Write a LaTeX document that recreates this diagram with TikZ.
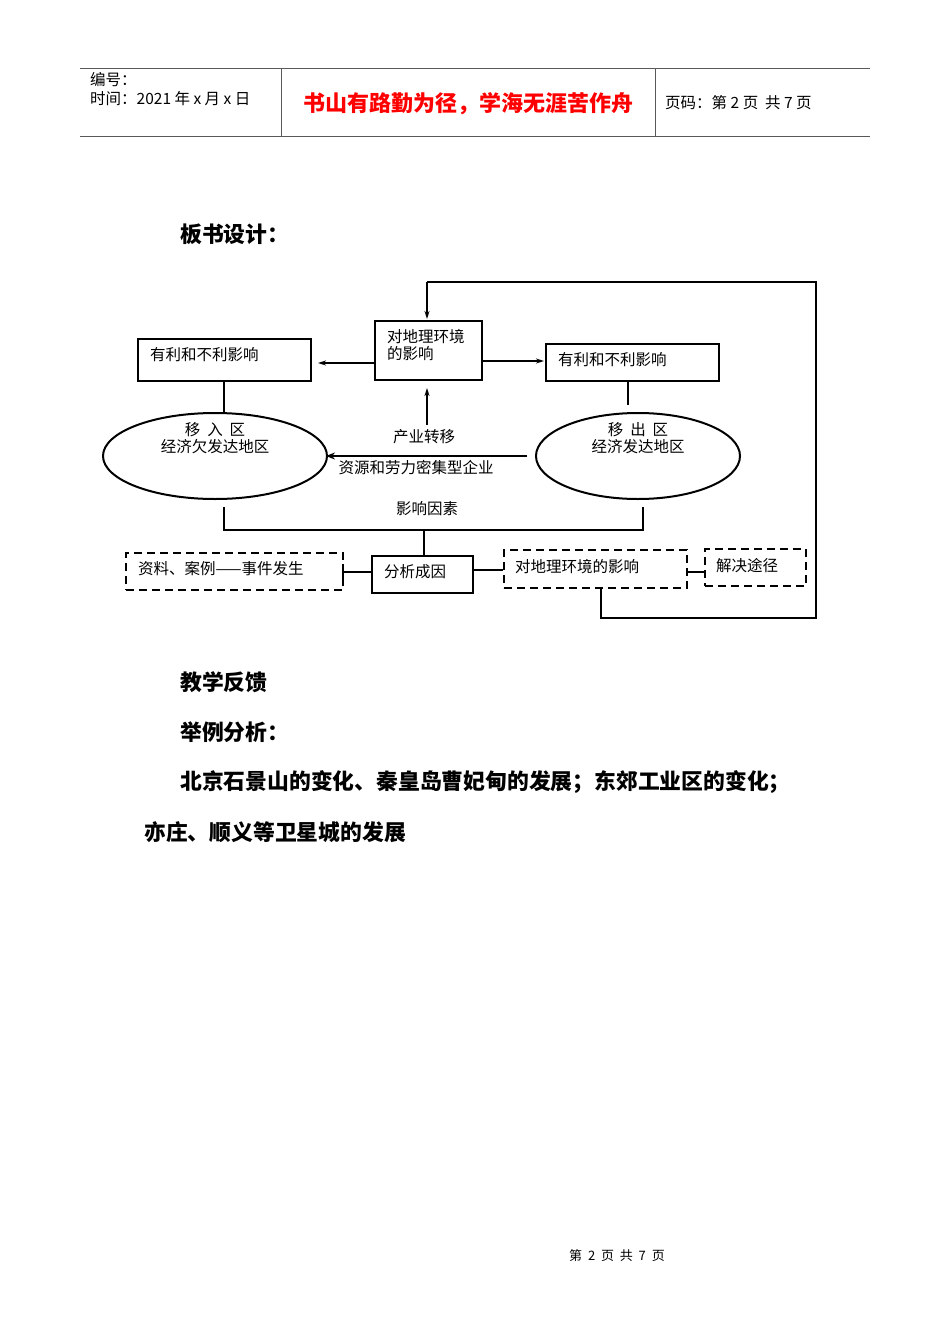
\documentclass[tikz,border=0pt]{standalone}
\usepackage{fontspec}
\newfontfamily\cjk{Noto Sans CJK SC}
\usetikzlibrary{arrows.meta}
\begin{document}
\begin{tikzpicture}[x=1pt,y=-1pt,
  t/.style={font=\cjk\fontsize{15.5}{17.5}\selectfont,inner sep=0pt},
  h/.style={font=\cjk\fontsize{15.5}{17}\selectfont,inner sep=0pt,anchor=west},
  b/.style={font=\cjk\bfseries\fontsize{21.8}{24}\selectfont,inner sep=0pt,anchor=west},
  bx/.style={draw,line width=2pt},
  dbx/.style={draw,line width=2pt,dash pattern=on 8pt off 5pt},
  ln/.style={line width=2pt},
  ar/.style={line width=2pt,-{Stealth[length=8pt,width=5pt,open]}}]
\useasboundingbox (0,0) rectangle (950,1344);
% header
\draw[gray!70!black,line width=1pt] (80,68)--(870,68) (80,136)--(870,136) (281,68)--(281,136) (655,68)--(655,136);
\node[h] (h1) at (90,80) {编号：};
\node[h] (h2) at (90,99) {时间：2021 年 x 月 x 日};
\node[font=\cjk\bfseries\fontsize{22}{24}\selectfont,text=red,inner sep=0pt] (h3) at (468,104) {书山有路勤为径，学海无涯苦作舟};
\node[h] (h4) at (665,103) {页码：第 2 页\ \ 共 7 页};
\node[b] (bs) at (180,234) {板书设计：};
% boxes
\node[bx,minimum width=173pt,minimum height=42pt,inner sep=0pt] (lb) at (224.5,360) {};
\node[t,anchor=west] at (150,355) {有利和不利影响};
\node[bx,minimum width=107pt,minimum height=59pt,inner sep=0pt] (cb) at (428.5,350.5) {};
\node[t,anchor=north west,align=left] at (387,329) {对地理环境\\的影响};
\node[bx,minimum width=173pt,minimum height=37pt,inner sep=0pt] (rb) at (632.5,362.5) {};
\node[t,anchor=west] at (558,360) {有利和不利影响};
\draw[ar] (cb.west|-0,363) -- (318,363);
\draw[ar] (cb.east|-0,361) -- (544,361);
\coordinate (up0) at (427,425);
\draw[ar] (up0) -- (427,388);
% loop
\coordinate (l1) at (601,588);
\draw[ln] (l1)--(601,618)--(816,618)--(816,282)--(427,282);
\draw[ar] (427,282)--(427,319);
% ellipses
\draw[ln] (215,456) ellipse[x radius=112,y radius=43];
\node[t,align=center] (le) at (215,438) {移\ \ 入\ \ 区\\经济欠发达地区};
\draw[ln] (638,456) ellipse[x radius=102,y radius=43];
\node[t,align=center] (re) at (638,438) {移\ \ 出\ \ 区\\经济发达地区};
\draw[ln] (224,381)--(224,413) (628,381)--(628,405);
\draw[line width=2pt,-{Stealth[length=9pt,width=7pt]}] (527,456)--(326,456);
\node[t] (cy) at (424,437) {产业转移};
\node[t] (zy) at (416,468) {资源和劳力密集型企业};
\node[t] (yx) at (427,509) {影响因素};
\draw[ln] (224,507)--(224,530)--(643,530)--(643,507) (424,530)--(424,556);
% bottom row
\node[bx,minimum width=101pt,minimum height=37pt,inner sep=0pt] (fx) at (422.5,574.5) {};
\node[t,anchor=west] at (384,572) {分析成因};
\node[dbx,minimum width=217pt,minimum height=37pt,inner sep=0pt] (zl) at (234.5,571.5) {};
\node[t,anchor=west] at (138,569) {资料、案例——事件发生};
\node[dbx,minimum width=183pt,minimum height=38pt,inner sep=0pt] (dl) at (595.5,569) {};
\node[t,anchor=west] at (515,567) {对地理环境的影响};
\node[dbx,minimum width=101pt,minimum height=37pt,inner sep=0pt] (jj) at (755.5,567.5) {};
\node[t,anchor=west] at (716,566) {解决途径};
\draw[ln] (zl.east|-0,572)--(fx.west|-0,572) (fx.east|-0,570)--(dl.west|-0,570) (dl.east|-0,572)--(jj.west|-0,572);
\draw[ln] (343,564)--(343,580);
% text
\node[b] (t1) at (180,682) {教学反馈};
\node[b] (t2) at (180,732) {举例分析：};
\node[b] (t3) at (180,782) {北京石景山的变化、秦皇岛曹妃甸的发展；东郊工业区的变化；};
\node[b] (t4) at (144,832) {亦庄、顺义等卫星城的发展};
\node[t,font=\cjk\fontsize{13}{15}\selectfont] (ft) at (617,1256) {第\ \ 2\ \ 页\ \ 共\ \ 7\ \ 页};
\end{tikzpicture}
\end{document}
